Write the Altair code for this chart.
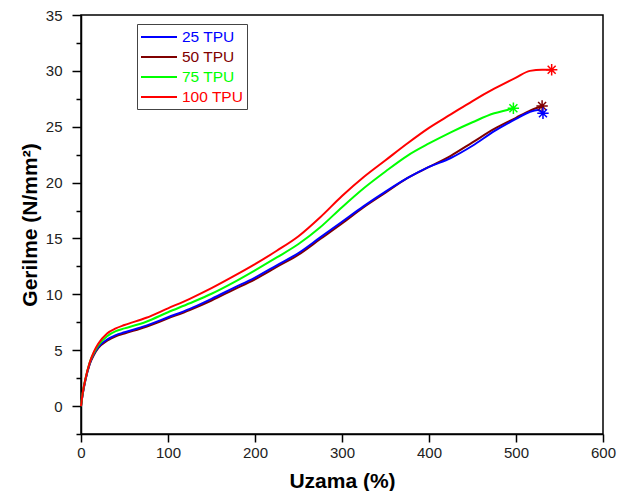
import altair as alt
import pandas as pd

series_names = ["25 TPU", "50 TPU", "75 TPU", "100 TPU"]
series_colors = ["#0000FF", "#800000", "#00FF00", "#FF0000"]

x_25 = [0, 2, 5, 10, 15, 20, 30, 40, 50, 75, 100, 125, 150, 175, 200, 225, 250, 275, 300, 325, 350, 375, 400, 425, 450, 475, 500, 515, 525, 531]
y_25 = [0, 1.1, 2.3, 3.8, 4.7, 5.3, 5.95, 6.35, 6.6, 7.2, 7.95, 8.7, 9.6, 10.55, 11.5, 12.6, 13.7, 15.1, 16.5, 17.9, 19.2, 20.4, 21.4, 22.2, 23.3, 24.6, 25.7, 26.3, 26.5, 26.2]

x_50 = [0, 2, 5, 10, 15, 20, 30, 40, 50, 75, 100, 125, 150, 175, 200, 225, 250, 275, 300, 325, 350, 375, 400, 425, 450, 475, 500, 515, 530]
y_50 = [0, 1.1, 2.3, 3.75, 4.6, 5.2, 5.85, 6.25, 6.5, 7.1, 7.85, 8.6, 9.45, 10.4, 11.35, 12.45, 13.55, 14.95, 16.35, 17.8, 19.1, 20.4, 21.4, 22.4, 23.6, 24.8, 25.8, 26.4, 26.85]

x_75 = [0, 2, 5, 10, 15, 20, 30, 40, 50, 75, 100, 125, 150, 175, 200, 225, 250, 275, 300, 325, 350, 375, 400, 425, 450, 475, 490, 497]
y_75 = [0, 1.2, 2.4, 3.9, 4.8, 5.45, 6.25, 6.7, 6.95, 7.55, 8.4, 9.2, 10.05, 11.05, 12.15, 13.3, 14.5, 16.0, 17.8, 19.5, 21.0, 22.4, 23.5, 24.5, 25.4, 26.2, 26.5, 26.65]

x_100 = [0, 2, 5, 10, 15, 20, 30, 40, 50, 75, 100, 125, 150, 175, 200, 225, 250, 275, 300, 325, 350, 375, 400, 425, 450, 475, 500, 516, 530, 541]
y_100 = [0, 1.2, 2.4, 3.9, 4.9, 5.6, 6.5, 6.95, 7.25, 7.9, 8.75, 9.6, 10.55, 11.6, 12.7, 13.9, 15.2, 16.9, 18.8, 20.5, 22.0, 23.5, 24.9, 26.1, 27.3, 28.4, 29.4, 30.0, 30.1, 30.1]

x_ticks = [0, 100, 200, 300, 400, 500, 600]
y_major = [0, 5, 10, 15, 20, 25, 30, 35]
y_minor = [-2.5, 2.5, 7.5, 12.5, 17.5, 22.5, 27.5, 32.5]

curves = [("50 TPU", x_50, y_50), ("25 TPU", x_25, y_25), ("75 TPU", x_75, y_75), ("100 TPU", x_100, y_100)]

rows = []
ends = []
for name, xs, ys in curves:
    for i, (xv, yv) in enumerate(zip(xs, ys)):
        rows.append({"series": name, "x": xv, "y": yv, "i": i})
    ends.append({"series": name, "x": xs[-1], "y": ys[-1]})
df = pd.DataFrame(rows)
df_end = pd.DataFrame(ends)

FONT = "Liberation Sans"
ASTER = "M-1,0L1,0M0,-1L0,1M-0.7,-0.7L0.7,0.7M-0.7,0.7L0.7,-0.7"
LEG_LINE = "M-1,0L3,0"

color_scale = alt.Scale(domain=series_names, range=series_colors)
x_scale = alt.Scale(domain=[0, 600], nice=False)
y_scale = alt.Scale(domain=[-2.5, 35], nice=False, zero=False)

x_enc = alt.X("x:Q", title="Uzama (%)", scale=x_scale,
              axis=alt.Axis(values=x_ticks, tickSize=8, labelPadding=3, titlePadding=10, labelFlush=False))

lines = alt.Chart(df).mark_line(strokeWidth=2, interpolate="monotone").encode(
    x=x_enc,
    y=alt.Y("y:Q", title="Gerilme (N/mm²)", scale=y_scale,
            axis=alt.Axis(values=y_major, tickSize=9, labelPadding=10, titlePadding=5, orient="left")),
    color=alt.Color("series:N", scale=color_scale,
                    legend=alt.Legend(title=None, orient="none", legendX=56, legendY=9,
                                      symbolType=LEG_LINE, symbolSize=324, symbolStrokeWidth=2,
                                      labelFont=FONT, labelFontSize=15.5,
                                      labelColor={"expr": "scale('color', datum.value)"},
                                      strokeColor="#444", fillColor="white", padding=3,
                                      rowPadding=1, labelOffset=22)),
    order="i:Q",
)

points = alt.Chart(df_end).mark_point(shape=ASTER, size=130, strokeWidth=1.5, filled=False, opacity=1).encode(
    x=x_enc,
    y=alt.Y("y:Q", title=None, scale=y_scale,
            axis=alt.Axis(values=y_minor, tickSize=5, labels=False, domain=False, orient="left", title=None)),
    color=alt.Color("series:N", scale=color_scale, legend=None),
)

chart = alt.layer(lines, points).resolve_legend(color="independent").resolve_axis(y="independent").properties(
    width=522, height=419,
    padding={"left": 73, "top": 7, "right": 14, "bottom": 57},
    autosize=alt.AutoSizeParams(type="none"),
).configure_view(stroke="black", strokeWidth=1.5).configure_axis(
    grid=False, domainColor="black", domainWidth=1.5, tickColor="black", tickWidth=1.5,
    labelFont=FONT, labelFontSize=15, labelColor="#222",
    titleFont=FONT, titleFontSize=21, titleFontWeight="bold", titleColor="black",
)

chart.save("out.html", embed_options={"renderer": "svg", "actions": False})
